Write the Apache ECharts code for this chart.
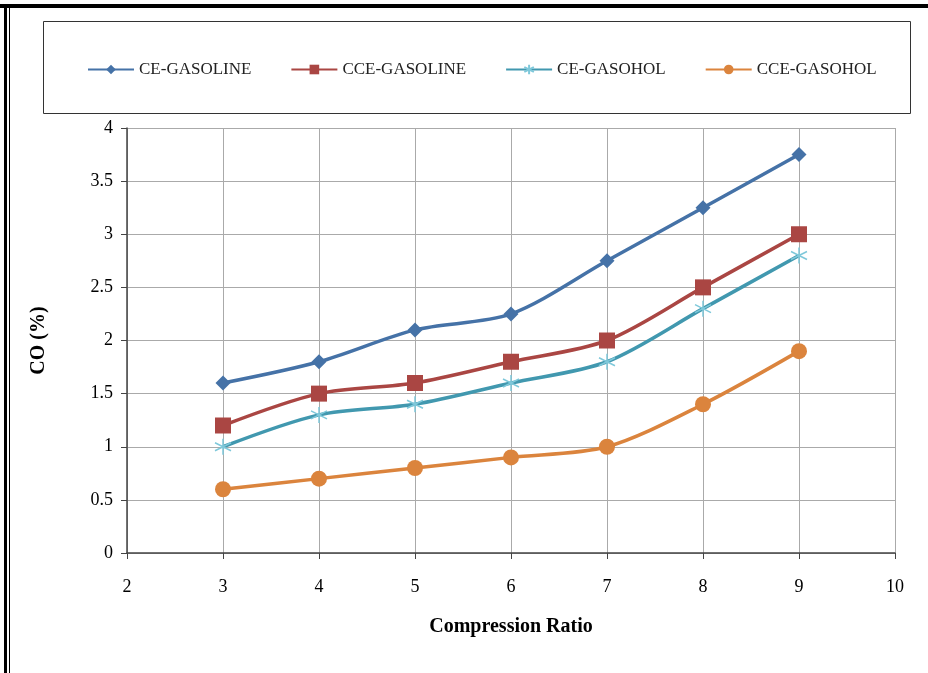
<!DOCTYPE html>
<html>
<head>
<meta charset="utf-8">
<script src="https://cdn.jsdelivr.net/npm/echarts@6/dist/echarts.min.js"></script>
<style>
	html, body { margin: 0; padding: 0; background: #fff; }
	#chart { width: 928px; height: 673px; }
</style>
</head>
<body>
<div id="chart"></div>
<script>
// compression ratio
var ratios = [3, 4, 5, 6, 7, 8, 9];
var names = ["CE-GASOLINE", "CCE-GASOLINE", "CE-GASOHOL", "CCE-GASOHOL"];
var ceGasoline = [1.6, 1.8, 2.1, 2.25, 2.75, 3.25, 3.75];
var cceGasoline = [1.2, 1.5, 1.6, 1.8, 2.0, 2.5, 3.0];
var ceGasohol = [1.0, 1.3, 1.4, 1.6, 1.8, 2.3, 2.8];
var cceGasohol = [0.6, 0.7, 0.8, 0.9, 1.0, 1.4, 1.9];

var colors = ["#4572A7", "#AA4643", "#4198AF", "#DB843D"];
var symbols = [
	"diamond",
	"rect",
	"path://M0,-10L0,10M-8.66,-5L8.66,5M-8.66,5L8.66,-5",
	"circle"
];
var symbolSizes = [15, 16, 16, 16];
var values = [ceGasoline, cceGasoline, ceGasohol, cceGasohol];

function pairs(ys) {
	return ratios.map(function (x, i) { return [x, ys[i]]; });
}

var font = "'Liberation Serif', 'DejaVu Serif', serif";

var myChart = echarts.init(document.getElementById("chart"));
var option = {
	backgroundColor: "#fff",
	animation: false,
	textStyle: { fontFamily: font },
	graphic: [
		// frame: thick top line, double left line
		{ type: "rect", shape: { x: 0, y: 4, width: 928, height: 4 }, style: { fill: "#000" } },
		{ type: "rect", shape: { x: 4, y: 4, width: 3, height: 669 }, style: { fill: "#000" } },
		{ type: "rect", shape: { x: 9, y: 8, width: 1, height: 665 }, style: { fill: "#000" } },
		// legend box
		{ type: "rect", shape: { x: 43.5, y: 21.5, width: 867, height: 92 }, style: { fill: "none", stroke: "#333", lineWidth: 1 } }
	],
	legend: {
		data: names,
		left: 82,
		top: 56,
		itemWidth: 46,
		itemHeight: 12,
		itemGap: 39,
		textStyle: { fontFamily: font, fontSize: 17, color: "#222" }
	},
	grid: { left: 127, right: 33, top: 128, bottom: 120 },
	xAxis: {
		type: "value",
		min: 2,
		max: 10,
		interval: 1,
		name: "Compression Ratio",
		nameLocation: "middle",
		nameGap: 64,
		nameTextStyle: { fontFamily: font, fontSize: 20, fontWeight: "bold", color: "#000" },
		axisLine: { onZero: false, lineStyle: { color: "#444", width: 1.5 } },
		axisTick: { show: true, length: 6, inside: false, lineStyle: { color: "#444" } },
		axisLabel: { fontFamily: font, fontSize: 18, color: "#000", margin: 25 },
		splitLine: { show: true, lineStyle: { color: "#aaa", width: 1 } }
	},
	yAxis: {
		type: "value",
		min: 0,
		max: 4,
		interval: 0.5,
		name: "CO (%)",
		nameLocation: "middle",
		nameGap: 78,
		nameTextStyle: { fontFamily: font, fontSize: 20, fontWeight: "bold", color: "#000" },
		axisLine: { show: true, lineStyle: { color: "#444", width: 1.5 } },
		axisTick: { show: true, length: 6, lineStyle: { color: "#444" } },
		axisLabel: { fontFamily: font, fontSize: 18, color: "#000", margin: 14 },
		splitLine: { show: true, lineStyle: { color: "#aaa", width: 1 } }
	},
	series: names.map(function (n, i) {
		return {
			name: n,
			type: "line",
			smooth: 0.3,
			data: pairs(values[i]),
			symbol: symbols[i],
			symbolSize: symbolSizes[i],
			showAllSymbol: true,
			lineStyle: { color: colors[i], width: 3.5 },
			itemStyle: {
				color: colors[i],
				borderColor: i === 2 ? "#7EC8DA" : colors[i],
				borderWidth: i === 2 ? 1.5 : 0
			},
			emphasis: { disabled: true }
		};
	})
};
myChart.setOption(option);
window.addEventListener("resize", myChart.resize);
</script>
</body>
</html>
